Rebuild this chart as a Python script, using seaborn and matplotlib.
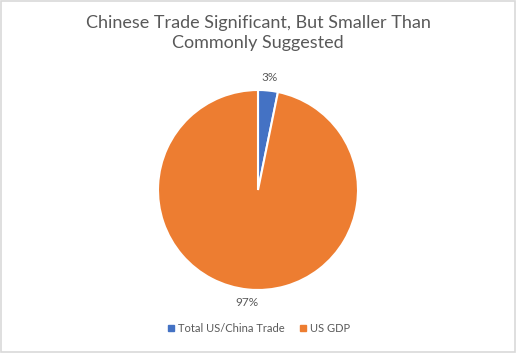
import matplotlib
matplotlib.use("Agg")
import matplotlib.pyplot as plt
from matplotlib.lines import Line2D
import seaborn as sns

categories = ["Total US/China Trade", "US GDP"]
values = [3.2, 96.8]
title = "Chinese Trade Significant, But Smaller Than\nCommonly Suggested"

sns.set_style("white")
plt.rcParams['font.family'] = ['Lato', 'DejaVu Sans']
colors = sns.color_palette(["#4472C4", "#ED7D31"])
text_color = "#595959"

W, H = 516, 353
fig = plt.figure(figsize=(W / 100, H / 100), dpi=100)
fig.patch.set_facecolor("white")
fig.patches.append(plt.Rectangle((0.001, 0.002), 0.997, 0.996, transform=fig.transFigure,
                                 fill=False, edgecolor="#D9D9D9", linewidth=1.2))

ax = fig.add_axes([158 / W, (H - 290) / H, 200 / W, 200 / H])
wedges, texts, autotexts = ax.pie(
    values, colors=colors, startangle=90, counterclock=False,
    autopct=lambda p: f"{p:.0f}%", pctdistance=1.13,
    wedgeprops=dict(edgecolor="white", linewidth=1.5),
    textprops=dict(color=text_color, fontsize=8.5))
ax.set_aspect("equal")
ax.set_xlim(-1, 1)
ax.set_ylim(-1, 1)
ax.axis("off")

fig.text(0.5, 1 - 33 / H, title, ha="center", va="center", fontsize=13,
         color=text_color, linespacing=1.3)

handles = [Line2D([0], [0], marker="s", linestyle="", markersize=5,
                  markerfacecolor=c, markeredgecolor=c) for c in colors]
fig.legend(handles, categories, loc="center", bbox_to_anchor=(0.5, 1 - 328 / H),
           ncol=2, frameon=False, fontsize=8, labelcolor=text_color,
           handletextpad=0.1, columnspacing=1.2, handlelength=1)

fig.savefig("out.png", dpi=100, facecolor="white")
